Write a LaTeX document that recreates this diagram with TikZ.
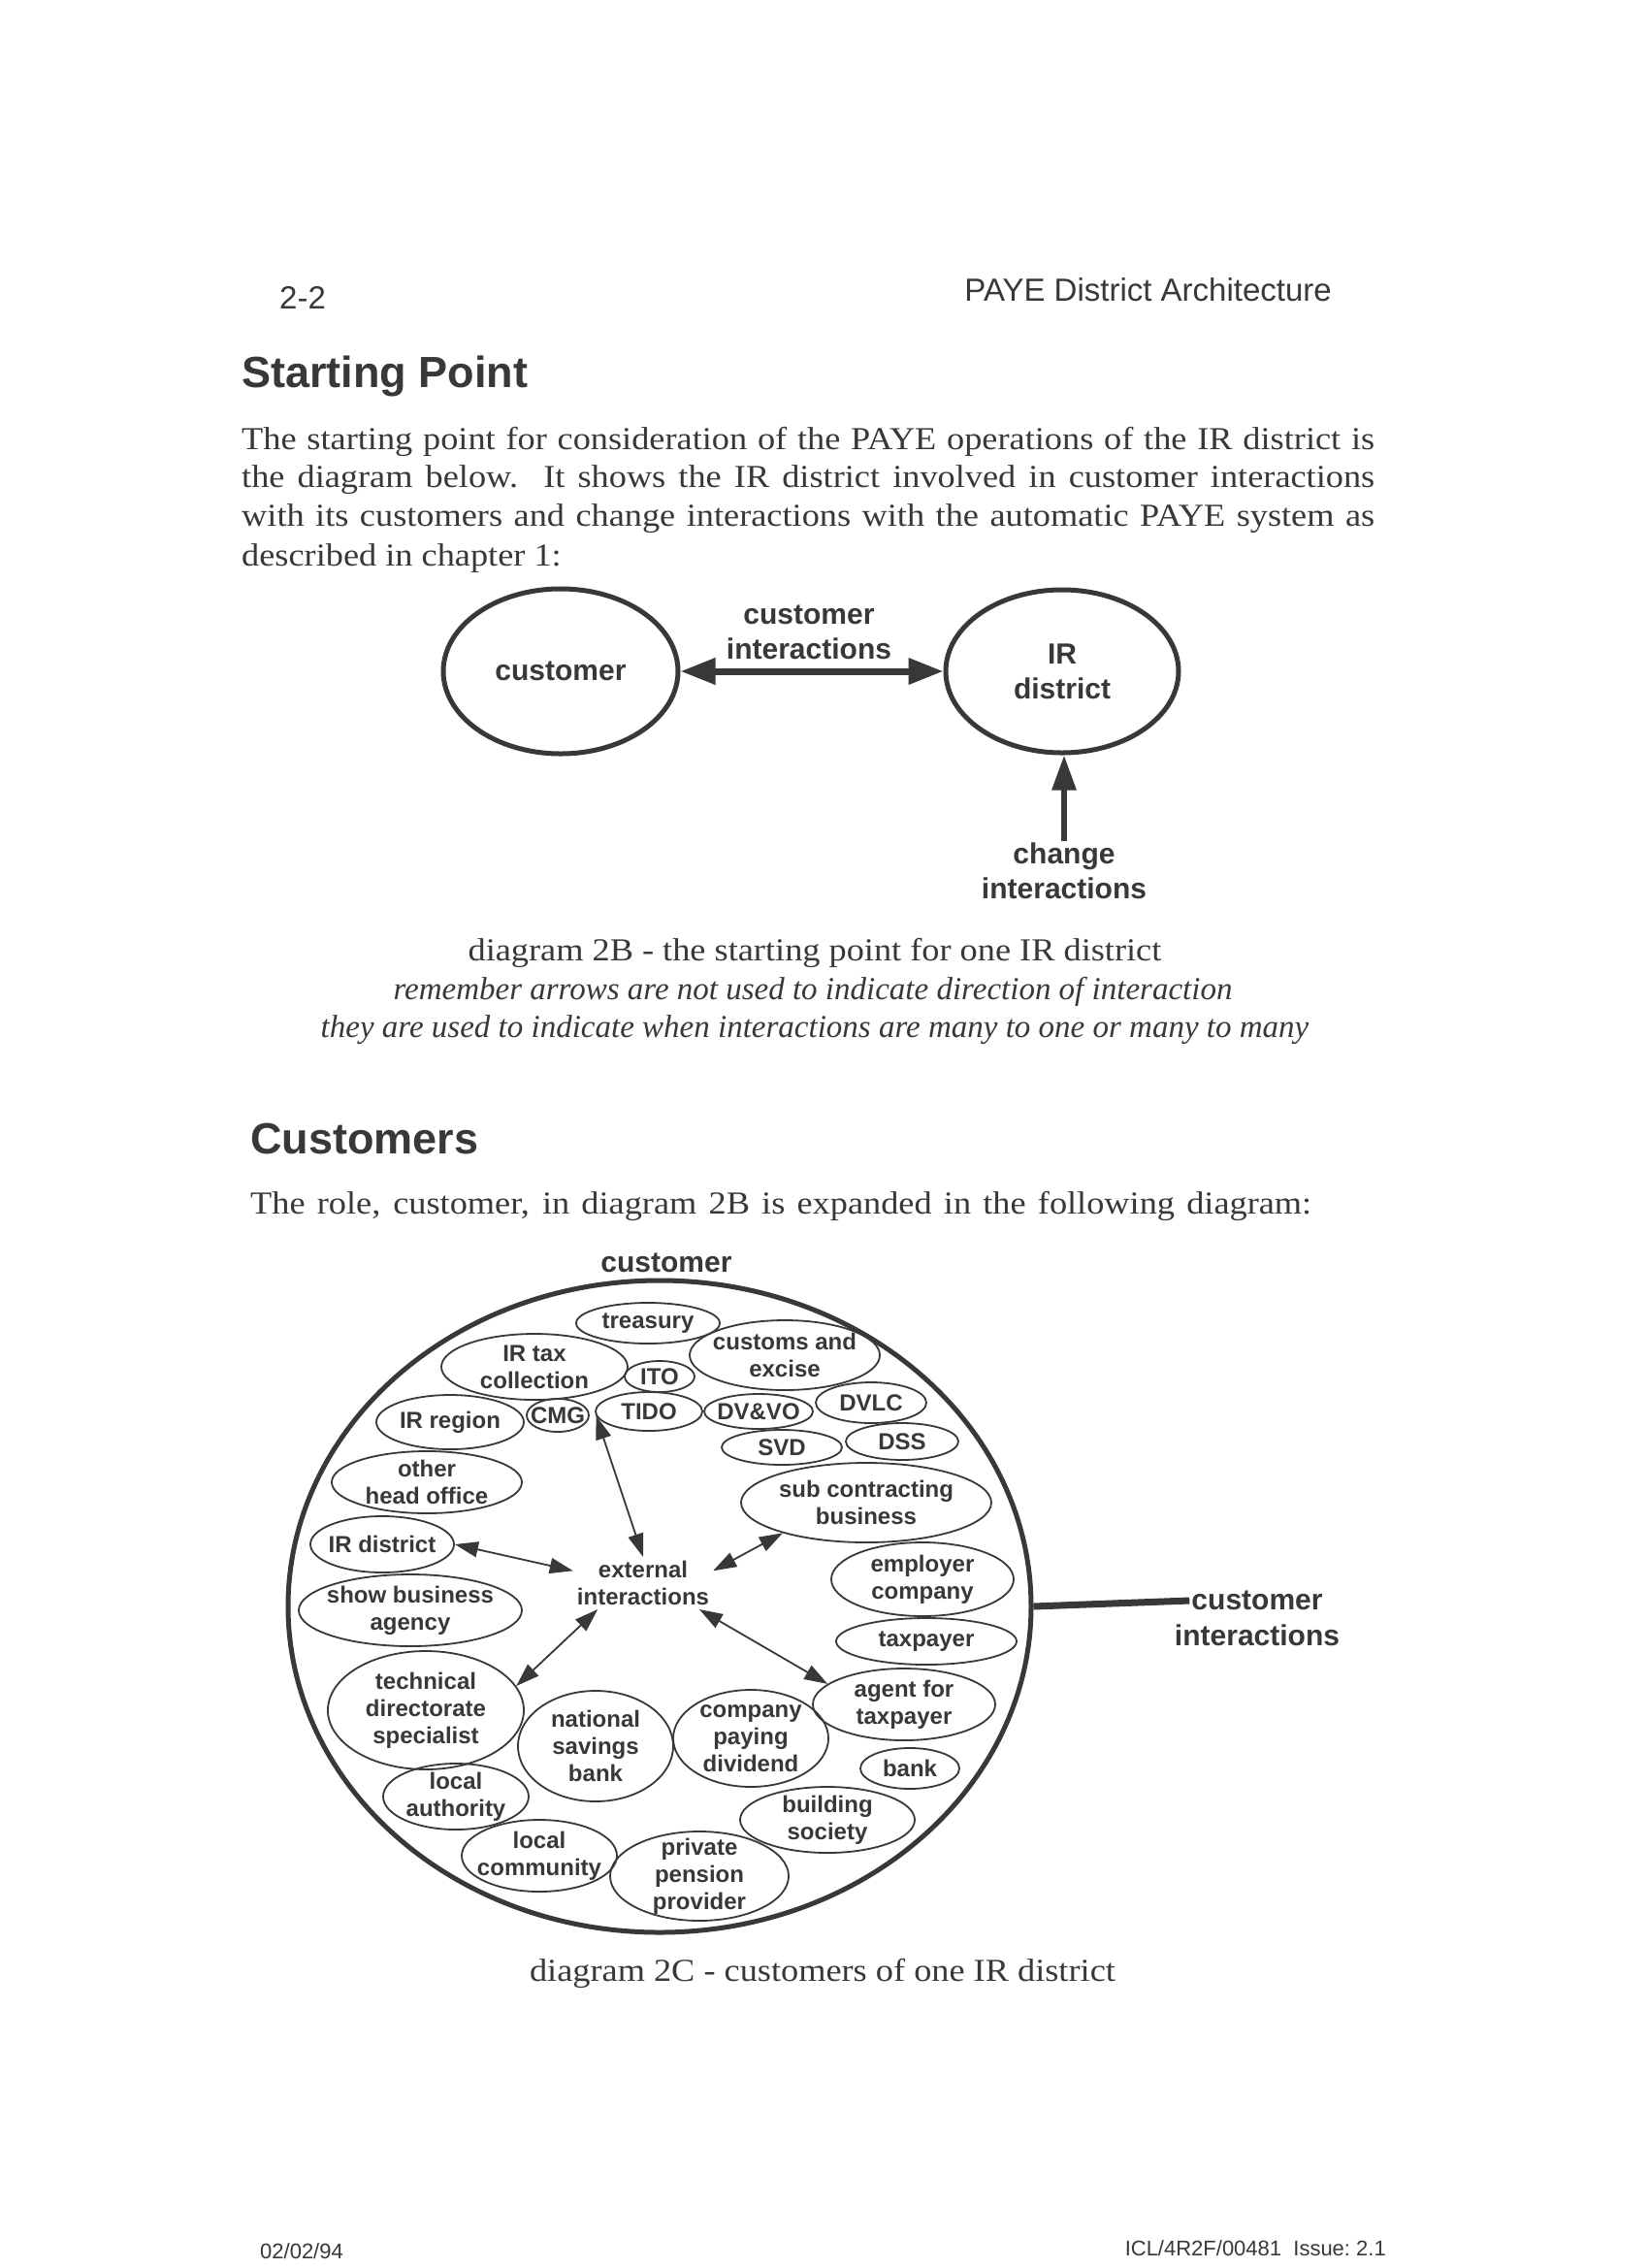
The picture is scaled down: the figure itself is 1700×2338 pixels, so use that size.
\documentclass[tikz,border=0pt]{standalone}
\usepackage{fontspec}
\setmainfont{Liberation Serif}
\newfontfamily\bodyrm{Liberation Serif}[FakeStretch=1.10]
\newfontfamily\hsans{Liberation Sans}
\usetikzlibrary{shapes.geometric,arrows.meta}
\definecolor{ink}{HTML}{383838}
\tikzset{
  body/.style={font=\bodyrm\fontsize{33}{40}\selectfont, text=ink, inner sep=0pt},
  bodyit/.style={font=\itshape\fontsize{33}{40}\selectfont, text=ink, inner sep=0pt},
  headg/.style={font=\hsans\bfseries\fontsize{45}{50}\selectfont, text=ink, inner sep=0pt},
  hdr/.style={font=\hsans\fontsize{33}{38}\selectfont, text=ink, inner sep=0pt},
  foot/.style={font=\hsans\fontsize{22}{26}\selectfont, text=ink, inner sep=0pt},
  lab/.style={font=\hsans\bfseries\fontsize{30}{36}\selectfont, text=ink, align=center, inner sep=2pt},
  sml/.style={font=\hsans\bfseries\fontsize{24}{28}\selectfont, text=ink, align=center},
  bigc/.style={ellipse, draw=ink, line width=5pt, inner sep=0pt, lab},
  cust/.style={ellipse, draw=ink, line width=1.8pt, inner sep=-12pt, sml},
  bigarrow/.style={draw=ink, line width=7pt, {Triangle[length=36pt,width=26pt]}-{Triangle[length=36pt,width=26pt]}},
  uparrow/.style={draw=ink, line width=6pt, -{Triangle[length=36pt,width=24pt]}},
  sarrow/.style={draw=ink, line width=1.8pt, {Triangle[length=24pt,width=16pt]}-{Triangle[length=24pt,width=16pt]}},
}
\begin{document}
\begin{tikzpicture}[x=1pt,y=-1pt]
\useasboundingbox[fill=white] (0,0) rectangle (1700,2338);

% header
\node[hdr, anchor=base west] (pno) at (288,318) {2-2};
\node[hdr, anchor=base east] (title) at (1373,310) {PAYE District Architecture};
\node[headg, anchor=base west] (h1) at (249,399) {Starting Point};

% paragraph
\node[body, anchor=base west] (p1) at (249,463) {\makebox[1168pt][s]{The starting point for consideration of the PAYE operations of the IR district is}};
\node[body, anchor=base west] (p2) at (249,502) {\makebox[1168pt][s]{the diagram below.\ \ It shows the IR district involved in customer interactions}};
\node[body, anchor=base west] (p3) at (249,542) {\makebox[1168pt][s]{with its customers and change interactions with the automatic PAYE system as}};
\node[body, anchor=base west] (p4) at (249,583) {described in chapter 1:};

% diagram 2B
\node[bigc, minimum width=242pt, minimum height=170pt] (cust) at (578,692) {customer};
\node[bigc, minimum width=240pt, minimum height=168pt] (ird) at (1095,692) {IR\\district};
\node[lab] (cilab) at (834,652) {customer\\interactions};
\node[lab] (chg) at (1097,898) {change\\interactions};
\draw[bigarrow] (cust.east) -- (ird.west);
\draw[uparrow] (chg.north) -- (chg.north |- ird.south);

% caption 2B
\node[body, anchor=base] (cap1) at (840,990) {diagram 2B - the starting point for one IR district};
\node[bodyit, anchor=base] (cap2) at (838,1030) {remember arrows are not used to indicate direction of interaction};
\node[bodyit, anchor=base] (cap3) at (840,1069) {they are used to indicate when interactions are many to one or many to many};

% Customers
\node[headg, anchor=base west] (h2) at (258,1189) {Customers};
\node[body, anchor=base west] (q1) at (258,1251) {\makebox[1094pt][s]{The role, customer, in diagram 2B is expanded in the following diagram:}};

% diagram 2C
\node[lab] (ctitle) at (687,1302) {customer};
\node[ellipse, draw=ink, line width=5pt, inner sep=0pt, minimum width=766pt, minimum height=672pt] (big) at (680,1656) {};
\node[lab] (ci1) at (1296,1650) {customer};
\node[lab] (ci2) at (1296,1686) {interactions};
\draw[ink, line width=7pt] (big.east) -- (ci1.west);

\node[cust, minimum width=148pt, minimum height=42pt] (treasury) at (668,1364) {treasury};
\node[cust, minimum width=192pt, minimum height=68pt] (irtax) at (551,1409) {IR tax\\collection};
\node[cust, minimum width=72pt, minimum height=32pt] (ito) at (680,1419) {ITO};
\node[cust, minimum width=196pt, minimum height=72pt] (customs) at (809,1397) {customs and\\excise};
\node[cust, minimum width=152pt, minimum height=56pt] (irregion) at (464,1466) {IR region};
\node[cust, minimum width=64pt, minimum height=34pt] (cmg) at (575,1459) {CMG};
\node[cust, minimum width=110pt, minimum height=40pt] (tido) at (669,1455) {TIDO};
\node[cust, minimum width=112pt, minimum height=36pt] (dvvo) at (782,1455) {DV\&VO};
\node[cust, minimum width=114pt, minimum height=42pt] (dvlc) at (898,1446) {DVLC};
\node[cust, minimum width=124pt, minimum height=36pt] (svd) at (806,1492) {SVD};
\node[cust, minimum width=116pt, minimum height=38pt] (dss) at (930,1486) {DSS};
\node[cust, minimum width=196pt, minimum height=64pt] (otherho) at (440,1528) {other\\head office};
\node[cust, minimum width=258pt, minimum height=82pt] (subc) at (893,1549) {sub contracting\\business};
\node[cust, minimum width=148pt, minimum height=58pt] (irdist) at (394,1592) {IR district};
\node[cust, minimum width=188pt, minimum height=76pt] (employer) at (951,1628) {employer\\company};
\node[cust, minimum width=230pt, minimum height=74pt] (showbiz) at (423,1660) {show business\\agency};
\node[cust, minimum width=186pt, minimum height=48pt] (taxpayer) at (955,1692) {taxpayer};
\node[cust, minimum width=202pt, minimum height=122pt] (tech) at (439,1763) {technical\\directorate\\specialist};
\node[cust, minimum width=160pt, minimum height=114pt] (nsb) at (614,1800) {national\\savings\\bank};
\node[cust, minimum width=160pt, minimum height=100pt] (cpd) at (774,1792) {company\\paying\\dividend};
\node[cust, minimum width=188pt, minimum height=74pt] (agent) at (932,1757) {agent for\\taxpayer};
\node[cust, minimum width=102pt, minimum height=42pt] (bank) at (938,1823) {bank};
\node[cust, minimum width=180pt, minimum height=68pt] (building) at (853,1876) {building\\society};
\node[cust, minimum width=184pt, minimum height=92pt] (private) at (721,1934) {private\\pension\\provider};
\node[cust, minimum width=160pt, minimum height=74pt] (localcom) at (556,1913) {local\\community};
\node[cust, minimum width=150pt, minimum height=68pt] (localauth) at (470,1852) {local\\authority};

\node[sml, inner sep=4pt] (ext) at (663,1632) {external\\interactions};
\draw[sarrow] (tido.185) -- (ext.north);
\draw[sarrow] (irdist.east) -- (ext.170);
\draw[sarrow] (subc.200) -- (ext.10);
\draw[sarrow] (tech.15) -- (ext.210);
\draw[sarrow] (agent.165) -- (ext.-25);

% caption 2C
\node[body, anchor=base] (cap4) at (848,2042) {diagram 2C - customers of one IR district};

% footer
\node[foot, anchor=base west] (date) at (268,2328) {02/02/94};
\node[foot, anchor=base east] (docid) at (1429,2325) {ICL/4R2F/00481\ \ Issue:\ 2.1};
\end{tikzpicture}
\end{document}
